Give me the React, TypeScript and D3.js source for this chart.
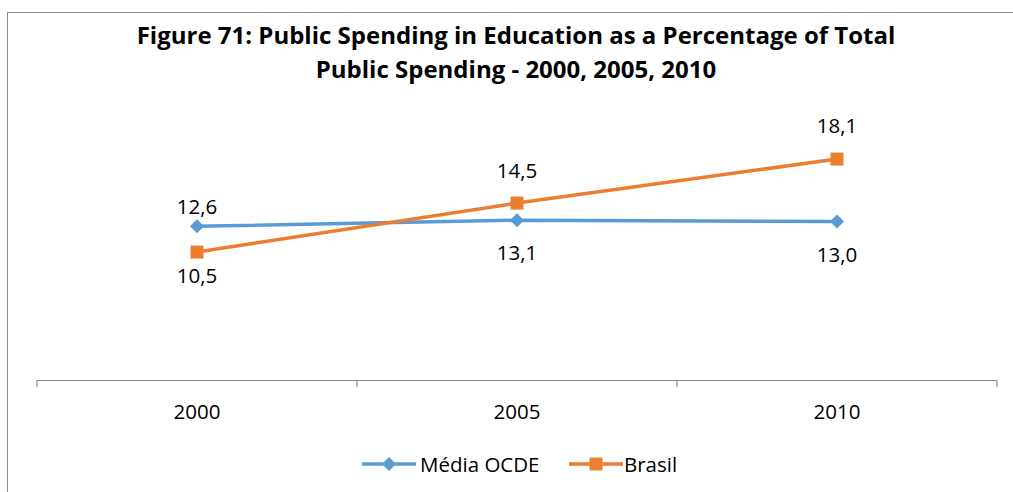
import React from "react";
import * as d3 from "d3";

const years = ["2000", "2005", "2010"];
const mediaOCDE = [12.6, 13.1, 13.0];
const brasil = [10.5, 14.5, 18.1];
const seriesNames = ["Média OCDE", "Brasil"];
const titleLines = [
  "Figure 71: Public Spending in Education as a Percentage of Total",
  "Public Spending - 2000, 2005, 2010",
];
// label offsets (baseline relative to marker)
const ocdeLabelDy = [-12, 40, 41];
const brasilLabelDy = [31, -25, -26];

const W = 1013;
const H = 492;
const FONT = "'Open Sans', 'Noto Sans', sans-serif";

export default function App() {
  const x = d3.scaleBand<string>().domain(years).range([37, 997]);
  const cx = (d: string) => (x(d) ?? 0) + x.bandwidth() / 2;
  const y = d3.scaleLinear().domain([0, 20]).range([380.5, 135.8]);

  const line = d3
    .line<number>()
    .x((_, i) => cx(years[i]))
    .y((v) => y(v));

  const blue = "#5B9BD5";
  const orange = "#ED7D31";
  const axisColor = "#868686";
  const fmt = (v: number) => v.toFixed(1).replace(".", ",");

  const diamond = (px: number, py: number, r = 7) =>
    `M${px},${py - r}L${px + r},${py}L${px},${py + r}L${px - r},${py}Z`;

  const tickXs = [...years.map((d) => x(d) ?? 0), 997];

  return (
    <svg
      width={W}
      height={H}
      style={{ position: "absolute", left: 0, top: 0, background: "#fff" }}
      fontFamily={FONT}
    >
      <rect x={7.5} y={12.5} width={W + 10} height={H + 10} fill="#fff" stroke="#8c8c8c" strokeWidth={1} />
      {titleLines.map((t, i) => (
        <text
          key={i}
          x={516}
          y={43.5 + i * 34}
          textAnchor="middle"
          fontWeight="bold"
          fontSize={24}
          fill="#000"
        >
          {t}
        </text>
      ))}

      {/* axis */}
      <line x1={37} x2={997} y1={380.5} y2={380.5} stroke={axisColor} strokeWidth={1.2} />
      {tickXs.map((tx, i) => (
        <line key={i} x1={tx} x2={tx} y1={380.5} y2={387} stroke={axisColor} strokeWidth={1.2} />
      ))}
      {years.map((d) => (
        <text key={d} x={cx(d)} y={419} textAnchor="middle" fontSize={20.5} fill="#000">
          {d}
        </text>
      ))}

      {/* lines */}
      <path d={line(mediaOCDE) ?? ""} fill="none" stroke={blue} strokeWidth={3.5} strokeLinejoin="round" />
      <path d={line(brasil) ?? ""} fill="none" stroke={orange} strokeWidth={3.5} strokeLinejoin="round" />
      {mediaOCDE.map((v, i) => (
        <path key={"m" + i} d={diamond(cx(years[i]), y(v))} fill={blue} />
      ))}
      {brasil.map((v, i) => (
        <rect key={"b" + i} x={cx(years[i]) - 6.5} y={y(v) - 6.5} width={13} height={13} fill={orange} />
      ))}

      {/* labels */}
      {mediaOCDE.map((v, i) => (
        <text key={"ml" + i} x={cx(years[i])} y={y(v) + ocdeLabelDy[i]} textAnchor="middle" fontSize={20.5} fill="#000">
          {fmt(v)}
        </text>
      ))}
      {brasil.map((v, i) => (
        <text key={"bl" + i} x={cx(years[i])} y={y(v) + brasilLabelDy[i]} textAnchor="middle" fontSize={20.5} fill="#000">
          {fmt(v)}
        </text>
      ))}

      {/* legend */}
      <g>
        <line x1={362} x2={416} y1={464} y2={464} stroke={blue} strokeWidth={3.5} />
        <path d={diamond(389, 464)} fill={blue} />
        <text x={420} y={471.5} fontSize={20.5} fill="#000">{seriesNames[0]}</text>
        <line x1={569} x2={623} y1={464} y2={464} stroke={orange} strokeWidth={3.5} />
        <rect x={589.5} y={457.5} width={13} height={13} fill={orange} />
        <text x={624} y={471.5} fontSize={20.5} fill="#000">{seriesNames[1]}</text>
      </g>
    </svg>
  );
}
